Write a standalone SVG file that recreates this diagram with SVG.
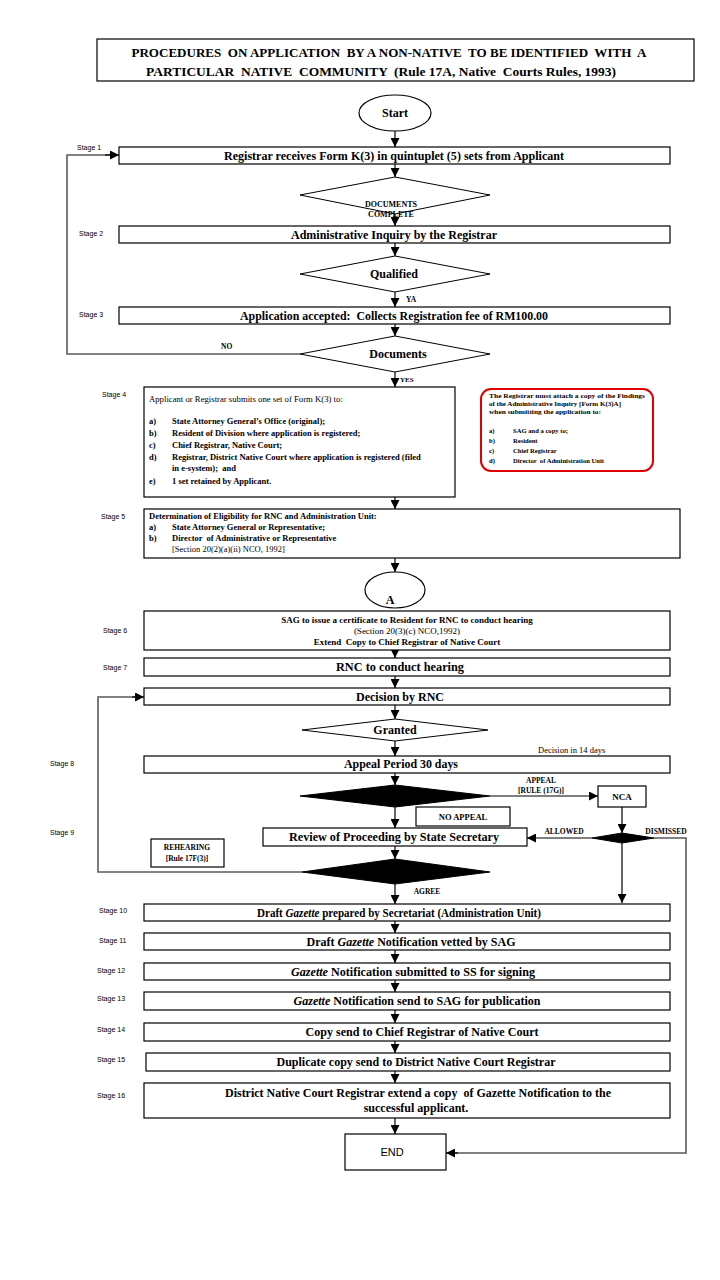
<svg xmlns="http://www.w3.org/2000/svg" width="720" height="1280" viewBox="0 0 720 1280">
<style>
.bg{fill:#fff}
.box{fill:#fff;stroke:#000;stroke-width:1.2}
.dia{fill:#fff;stroke:#000;stroke-width:1}
.blk{fill:#000;stroke:#000;stroke-width:1}
.t{font-family:"Liberation Serif","Times New Roman",serif;font-weight:bold;fill:#000}
.r{font-family:"Liberation Serif","Times New Roman",serif;fill:#000}
.m{font-size:12px;text-anchor:middle}
.s{font-size:8.5px}
.n{font-family:"Liberation Serif","Times New Roman",serif;font-weight:bold;font-size:6.6px;fill:#000}
.st{font-family:"Liberation Sans",Arial,sans-serif;font-size:7px;fill:#000}
.c{fill:none;stroke:#000;stroke-width:1.2}
.g{fill:none;stroke:#5a5a5a;stroke-width:1.6}
.red{fill:#fff;stroke:#e00000;stroke-width:2}
</style>
<defs>
<marker id="ah" markerUnits="userSpaceOnUse" markerWidth="9" markerHeight="9" viewBox="0 0 10 10" refX="10" refY="5" orient="auto">
<path d="M0,0 L10,5 L0,10 z" fill="#000"/>
</marker>
</defs>
<rect class="bg" x="0" y="0" width="720" height="1280"/>

<g id="title">
<rect class="box" x="97" y="39" width="597" height="42"/>
<text class="t" x="389" y="57" font-size="12.5" text-anchor="middle" textLength="515" lengthAdjust="spacingAndGlyphs" xml:space="preserve">PROCEDURES  ON APPLICATION  BY A NON-NATIVE  TO BE IDENTIFIED  WITH  A</text>
<text class="t" x="381" y="76" font-size="12.5" text-anchor="middle" textLength="470" lengthAdjust="spacingAndGlyphs" xml:space="preserve">PARTICULAR  NATIVE  COMMUNITY  (Rule 17A, Native  Courts Rules, 1993)</text>
</g>

<g id="stage-labels">
<text class="st" x="77" y="150">Stage 1</text>
<text class="st" x="79" y="236">Stage 2</text>
<text class="st" x="79" y="317">Stage 3</text>
<text class="st" x="102" y="397">Stage 4</text>
<text class="st" x="101" y="519">Stage 5</text>
<text class="st" x="103" y="633">Stage 6</text>
<text class="st" x="103" y="670">Stage 7</text>
<text class="st" x="50" y="766">Stage 8</text>
<text class="st" x="50" y="835">Stage 9</text>
<text class="st" x="99" y="913">Stage 10</text>
<text class="st" x="99" y="943">Stage 11</text>
<text class="st" x="97" y="973">Stage 12</text>
<text class="st" x="97" y="1001">Stage 13</text>
<text class="st" x="97" y="1032">Stage 14</text>
<text class="st" x="97" y="1062">Stage 15</text>
<text class="st" x="97" y="1098">Stage 16</text>
</g>

<g id="connectors">
<line class="c" x1="395" y1="131" x2="395" y2="147" marker-end="url(#ah)"/>
<line class="c" x1="395" y1="164" x2="395" y2="177" marker-end="url(#ah)"/>
<line class="c" x1="395" y1="214" x2="395" y2="226" marker-end="url(#ah)"/>
<line class="c" x1="395" y1="243" x2="395" y2="256" marker-end="url(#ah)"/>
<line class="c" x1="395" y1="292" x2="395" y2="307" marker-end="url(#ah)"/>
<line class="c" x1="395" y1="324" x2="395" y2="336" marker-end="url(#ah)"/>
<polyline class="g" points="300,354 67,354 67,155 110,155"/>
<line class="c" x1="105" y1="155" x2="119" y2="155" marker-end="url(#ah)"/>
<line class="c" x1="395" y1="372" x2="395" y2="387" marker-end="url(#ah)"/>
<line class="c" x1="395" y1="497" x2="395" y2="509" marker-end="url(#ah)"/>
<line class="c" x1="395" y1="558" x2="395" y2="572" marker-end="url(#ah)"/>
<line class="c" x1="395" y1="650" x2="395" y2="658" marker-end="url(#ah)"/>
<line class="c" x1="395" y1="676" x2="395" y2="688" marker-end="url(#ah)"/>
<line class="c" x1="395" y1="705" x2="395" y2="719" marker-end="url(#ah)"/>
<line class="c" x1="395" y1="740" x2="395" y2="756" marker-end="url(#ah)"/>
<line class="c" x1="395" y1="773" x2="395" y2="785" marker-end="url(#ah)"/>
<line class="c" x1="490" y1="796" x2="598" y2="796" marker-end="url(#ah)"/>
<line class="c" x1="395" y1="807" x2="395" y2="828" marker-end="url(#ah)"/>
<line class="c" x1="622" y1="807" x2="622" y2="833" marker-end="url(#ah)"/>
<line class="c" x1="592" y1="838" x2="527" y2="838" marker-end="url(#ah)"/>
<line class="c" x1="622" y1="843" x2="622" y2="903" marker-end="url(#ah)"/>
<polyline class="g" points="654,838 686,838 686,1153 455,1153"/>
<line class="c" x1="458" y1="1153" x2="446" y2="1153" marker-end="url(#ah)"/>
<line class="c" x1="395" y1="846" x2="395" y2="859" marker-end="url(#ah)"/>
<polyline class="g" points="302,872 98,872 98,697 136,697"/>
<line class="c" x1="132" y1="697" x2="144" y2="697" marker-end="url(#ah)"/>
<line class="c" x1="395" y1="884" x2="395" y2="904" marker-end="url(#ah)"/>
<line class="c" x1="395" y1="921" x2="395" y2="933" marker-end="url(#ah)"/>
<line class="c" x1="395" y1="950" x2="395" y2="963" marker-end="url(#ah)"/>
<line class="c" x1="395" y1="980" x2="395" y2="992" marker-end="url(#ah)"/>
<line class="c" x1="395" y1="1010" x2="395" y2="1023" marker-end="url(#ah)"/>
<line class="c" x1="395" y1="1041" x2="395" y2="1053" marker-end="url(#ah)"/>
<line class="c" x1="395" y1="1071" x2="395" y2="1083" marker-end="url(#ah)"/>
<line class="c" x1="395" y1="1118" x2="395" y2="1134" marker-end="url(#ah)"/>
</g>

<g id="connector-labels">
<text class="t" x="406" y="302" font-size="7.5">YA</text>
<text class="t" x="221" y="349" font-size="7.5">NO</text>
<text class="t" x="400" y="382" font-size="7">YES</text>
<text class="r" x="538" y="753" font-size="8.5">Decision in 14 days</text>
<text class="t" x="541" y="783" font-size="7.5" text-anchor="middle">APPEAL</text>
<text class="t" x="541" y="793" font-size="7.5" text-anchor="middle" font-weight="normal">[RULE (17G)]</text>
<text class="t" x="564" y="834" font-size="7.5" text-anchor="middle">ALLOWED</text>
<text class="t" x="666" y="834" font-size="7.5" text-anchor="middle">DISMISSED</text>
<text class="t" x="427" y="894" font-size="7.5" text-anchor="middle">AGREE</text>
</g>

<g id="start">
<ellipse class="box" cx="395" cy="113" rx="36" ry="18"/>
<text class="t m" x="395" y="117">Start</text>
</g>

<g id="stage1">
<rect class="box" x="119" y="147" width="551" height="17"/>
<text class="t m" x="394" y="160" textLength="340" lengthAdjust="spacingAndGlyphs">Registrar receives Form K(3) in quintuplet (5) sets from Applicant</text>
</g>

<g id="docs-complete">
<polygon class="dia" points="395,177 490,195 395,214 300,195"/>
<text class="t" x="391" y="207" font-size="8" text-anchor="middle">DOCUMENTS</text>
<text class="t" x="391" y="217" font-size="8" text-anchor="middle">COMPLETE</text>
</g>

<g id="stage2">
<rect class="box" x="119" y="226" width="551" height="17"/>
<text class="t m" x="394" y="239" textLength="206" lengthAdjust="spacingAndGlyphs">Administrative Inquiry  by the Registrar</text>
</g>

<g id="qualified">
<polygon class="dia" points="395,256 490,274 395,292 300,274"/>
<text class="t m" x="394" y="278">Qualified</text>
</g>

<g id="stage3">
<rect class="box" x="119" y="307" width="551" height="17"/>
<text class="t m" x="394" y="320" textLength="308" lengthAdjust="spacingAndGlyphs" xml:space="preserve">Application accepted:  Collects Registration fee of RM100.00</text>
</g>

<g id="documents">
<polygon class="dia" points="395,336 490,354 395,372 300,354"/>
<text class="t m" x="398" y="358">Documents</text>
</g>

<g id="stage4">
<rect class="box" x="144" y="387" width="311" height="110"/>
<text class="r" x="149" y="402" font-size="8.7">Applicant or Registrar submits one set of Form K(3) to:</text>
<text class="t s" x="149" y="424">a)</text><text class="t s" x="172" y="424">State Attorney General’s Office (original);</text>
<text class="t s" x="149" y="436">b)</text><text class="t s" x="172" y="436">Resident of Division where application is registered;</text>
<text class="t s" x="149" y="448">c)</text><text class="t s" x="172" y="448">Chief Registrar, Native Court;</text>
<text class="t s" x="149" y="460">d)</text><text class="t s" x="172" y="460">Registrar, District Native Court where application is registered (filed</text>
<text class="t s" x="172" y="471" xml:space="preserve">in e-system);  and</text>
<text class="t s" x="149" y="484">e)</text><text class="t s" x="172" y="484">1 set retained by Applicant.</text>
</g>

<g id="note">
<rect class="red" x="481" y="389" width="172" height="82" rx="10"/>
<text class="n" x="489" y="398" textLength="156" lengthAdjust="spacingAndGlyphs">The Registrar must attach a copy of the Findings</text>
<text class="n" x="489" y="406" textLength="132" lengthAdjust="spacingAndGlyphs">of the Administrative Inquiry [Form K(3)A]</text>
<text class="n" x="489" y="414" textLength="112" lengthAdjust="spacingAndGlyphs">when submitting the application to:</text>
<text class="n" x="489" y="433">a)</text><text class="n" x="513" y="433">SAG and a copy to;</text>
<text class="n" x="489" y="443">b)</text><text class="n" x="513" y="443">Resident</text>
<text class="n" x="489" y="453">c)</text><text class="n" x="513" y="453">Chief Registrar</text>
<text class="n" x="489" y="463">d)</text><text class="n" x="513" y="463" xml:space="preserve">Director  of Administration Unit</text>
</g>

<g id="stage5">
<rect class="box" x="144" y="509" width="536" height="49"/>
<text class="t s" x="149" y="519" font-weight="normal">Determination of Eligibility for RNC and Administration Unit:</text>
<text class="t s" x="149" y="530">a)</text><text class="t s" x="172" y="530">State Attorney General or Representative;</text>
<text class="t s" x="149" y="541">b)</text><text class="t s" x="172" y="541" xml:space="preserve">Director  of Administrative or Representative</text>
<text class="r s" x="172" y="552">[Section 20(2)(a)(ii) NCO, 1992]</text>
</g>

<g id="connector-a">
<ellipse class="box" cx="395" cy="590" rx="30" ry="18"/>
<text class="t m" x="390" y="604">A</text>
</g>

<g id="stage6">
<rect class="box" x="144" y="611" width="526" height="39"/>
<text class="t" x="407" y="623" font-size="9" text-anchor="middle">SAG to issue a certificate to Resident for RNC to conduct hearing</text>
<text class="r" x="407" y="634" font-size="9" text-anchor="middle">(Section 20(3)(c) NCO,1992)</text>
<text class="t" x="407" y="645" font-size="9" text-anchor="middle" font-weight="normal" xml:space="preserve">Extend  Copy to Chief Registrar of Native Court</text>
</g>

<g id="stage7">
<rect class="box" x="144" y="658" width="526" height="18"/>
<text class="t m" x="400" y="671" textLength="128" lengthAdjust="spacingAndGlyphs">RNC to conduct hearing</text>
</g>

<g id="decision">
<rect class="box" x="144" y="688" width="526" height="17"/>
<text class="t m" x="400" y="701">Decision by RNC</text>
</g>

<g id="granted">
<polygon class="dia" points="395,719 488,730 395,741 302,730"/>
<text class="t m" x="395" y="734">Granted</text>
</g>

<g id="stage8">
<rect class="box" x="144" y="756" width="526" height="17"/>
<text class="t m" x="401" y="768" textLength="114" lengthAdjust="spacingAndGlyphs">Appeal Period 30 days</text>
</g>

<g id="appeal-decision">
<polygon class="blk" points="395,785 490,796 395,807 300,796"/>
</g>

<g id="nca">
<rect class="box" x="598" y="786" width="48" height="21"/>
<text class="t" x="622" y="800" font-size="9" text-anchor="middle">NCA</text>
</g>

<g id="no-appeal">
<rect class="box" x="416" y="807" width="94" height="19"/>
<text class="t" x="463" y="820" font-size="8.5" text-anchor="middle">NO APPEAL</text>
</g>

<g id="nca-decision">
<polygon class="blk" points="622,833 654,838 622,843 592,838"/>
</g>

<g id="stage9">
<rect class="box" x="263" y="828" width="264" height="18"/>
<text class="t m" x="394" y="841" textLength="210" lengthAdjust="spacingAndGlyphs">Review of Proceeding by State Secretary</text>
</g>

<g id="rehearing">
<rect class="box" x="151" y="839" width="73" height="28"/>
<text class="t" x="187" y="850" font-size="7.5" text-anchor="middle" font-weight="normal">REHEARING</text>
<text class="t" x="187" y="861" font-size="7.5" text-anchor="middle" font-weight="normal">[Rule 17F(3)]</text>
</g>

<g id="review-decision">
<polygon class="blk" points="395,859 490,872 395,884 302,872"/>
</g>

<g id="stage10">
<rect class="box" x="144" y="904" width="526" height="17"/>
<text class="t m" x="399" y="917" textLength="284" lengthAdjust="spacingAndGlyphs">Draft <tspan font-style="italic">Gazette</tspan> prepared by Secretariat (Administration Unit)</text>
</g>

<g id="stage11">
<rect class="box" x="144" y="933" width="526" height="17"/>
<text class="t m" x="411" y="946" textLength="209" lengthAdjust="spacingAndGlyphs">Draft <tspan font-style="italic">Gazette</tspan> Notification vetted by SAG</text>
</g>

<g id="stage12">
<rect class="box" x="144" y="963" width="526" height="17"/>
<text class="t m" x="413" y="976" textLength="244" lengthAdjust="spacingAndGlyphs"><tspan font-style="italic">Gazette</tspan> Notification submitted to SS for signing</text>
</g>

<g id="stage13">
<rect class="box" x="144" y="992" width="526" height="18"/>
<text class="t m" x="417" y="1005" textLength="247" lengthAdjust="spacingAndGlyphs"><tspan font-style="italic">Gazette</tspan> Notification send to SAG for publication</text>
</g>

<g id="stage14">
<rect class="box" x="144" y="1023" width="526" height="18"/>
<text class="t m" x="422" y="1036" textLength="233" lengthAdjust="spacingAndGlyphs">Copy send to Chief Registrar of Native Court</text>
</g>

<g id="stage15">
<rect class="box" x="146" y="1053" width="524" height="18"/>
<text class="t m" x="416" y="1066" textLength="279" lengthAdjust="spacingAndGlyphs">Duplicate copy send to District Native Court Registrar</text>
</g>

<g id="stage16">
<rect class="box" x="144" y="1083" width="526" height="35"/>
<text class="t m" x="418" y="1097" textLength="386" lengthAdjust="spacingAndGlyphs" xml:space="preserve">District Native Court Registrar extend a copy  of Gazette Notification to the</text>
<text class="t m" x="416" y="1112">successful applicant.</text>
</g>

<g id="end">
<rect class="box" x="345" y="1134" width="101" height="36"/>
<text x="392" y="1156" font-family="Liberation Sans, Arial, sans-serif" font-size="11" text-anchor="middle" fill="#000">END</text>
</g>
</svg>
